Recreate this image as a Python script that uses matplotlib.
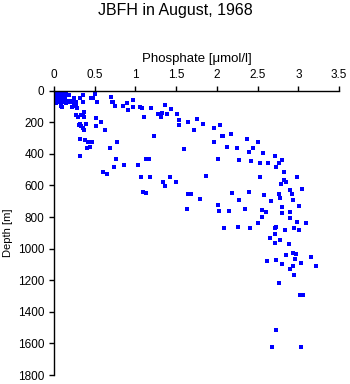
import matplotlib
matplotlib.use("Agg")
import matplotlib.pyplot as plt

plt.rcParams['font.family'] = ['Liberation Sans', 'DejaVu Sans']

title = "JBFH in August, 1968"
x_label = "Phosphate [\u03bcmol/l]"
y_label = "Depth [m]"
x_ticks = [0, 0.5, 1, 1.5, 2, 2.5, 3, 3.5]
x_tick_labels = ["0", "0.5", "1", "1.5", "2", "2.5", "3", "3.5"]
y_ticks = [0, 200, 400, 600, 800, 1000, 1200, 1400, 1600, 1800]

# near-surface samples
surf_phosphate = [0.01, 0.03, 0.05, 0.07, 0.09, 0.11,
                  0.02, 0.04, 0.06, 0.08, 0.10, 0.12, 0.14,
                  0.01, 0.03, 0.05, 0.07, 0.09, 0.13,
                  0.02, 0.04, 0.06, 0.08, 0.10, 0.15,
                  0.03, 0.05, 0.09, 0.12, 0.17,
                  0.02, 0.06, 0.10,
                  0.04, 0.08, 0.13,
                  0.03, 0.07, 0.11,
                  0.05, 0.12,
                  0.02, 0.06, 0.10, 0.14, 0.18, 0.22,
                  0.01, 0.04, 0.08, 0.12, 0.16, 0.20, 0.24, 0.27,
                  0.03, 0.09, 0.15, 0.09]
surf_depth = [2, 2, 2, 2, 2, 2,
              8, 8, 8, 8, 8, 8, 8,
              14, 14, 14, 14, 14, 14,
              20, 20, 20, 20, 20, 20,
              26, 26, 26, 26, 26,
              32, 32, 32,
              40, 40, 40,
              48, 48, 48,
              56, 56,
              64, 64, 64, 64, 64, 64,
              70, 70, 70, 70, 70, 70, 70, 70,
              76, 76, 76, 97]

# samples below the surface layer
phosphate = [0.19, 0.35, 0.50, 0.24, 0.32, 0.45, 0.48, 0.70, 0.71, 0.73, 0.53, 0.36, 0.24,
             0.97, 0.90, 0.85, 0.75, 0.97, 1.05, 1.08, 0.91, 1.11,
             0.10, 0.22, 0.25, 0.27, 0.28, 0.37, 0.27, 0.30, 0.33, 0.36, 0.37, 0.52, 0.58,
             0.52, 0.32, 0.31, 0.33, 0.39, 0.35, 0.37, 0.63, 0.32, 0.38, 0.42, 0.44, 0.47,
             0.77, 0.44, 0.41, 0.69,
             0.32, 0.76, 0.74, 0.86, 1.03, 1.13, 1.17, 0.60, 0.65, 1.07, 1.18, 1.43, 1.34,
             1.36, 1.09, 1.13, 1.23,
             1.19, 1.36, 1.28, 1.33, 1.32, 1.39, 1.44, 1.51, 1.53, 1.53, 1.64, 1.75, 1.83,
             1.72, 1.97, 2.04, 2.06, 2.08, 2.17, 1.97, 1.60, 2.13, 2.25,
             2.37, 2.50, 2.44, 2.40, 2.57,
             2.01, 2.27, 1.50, 1.87, 1.65, 1.68, 1.79, 1.63, 2.18, 2.01, 2.03, 2.15, 2.27,
             2.42, 2.53, 2.63, 2.72, 2.76, 2.80, 2.73, 2.82, 2.99, 2.53, 2.83, 2.85, 2.79,
             3.04, 2.90, 2.40, 2.58, 2.76, 2.92, 2.78, 2.66, 2.94, 2.35, 2.55, 2.60, 2.80,
             3.01, 2.90, 2.80, 2.56, 2.90, 2.99, 3.10, 2.50,
             2.09, 2.26, 2.41, 2.73, 2.71, 2.84, 2.95, 3.01, 2.72, 2.65, 2.78, 2.71, 2.88,
             2.94, 2.97, 2.85, 3.16, 2.96, 2.62, 2.73, 2.80, 3.03, 3.22, 2.93, 2.90, 2.95,
             2.76,
             3.02, 3.06, 2.73, 2.68, 3.03]
depth = [27, 27, 23, 48, 48, 48, 48, 38, 74, 74, 74, 74, 74,
         61, 80, 99, 99, 105, 101, 108, 124, 168,
         101, 101, 100, 100, 112, 133, 154, 164, 156, 154, 164, 173, 200,
         221, 213, 218, 225, 213, 238, 251, 251, 306, 312, 327, 327, 327,
         327, 356, 365, 365,
         413, 434, 481, 472, 472, 434, 434, 517, 527, 544, 544, 544, 580,
         603, 641, 647, 289,
         112, 93, 150, 143, 167, 150, 118, 150, 188, 219, 200, 177, 213,
         251, 238, 219, 289, 289, 276, 327, 367, 354, 365,
         308, 327, 365, 390, 396,
         434, 441, 580, 542, 652, 652, 686, 751, 650, 726, 763, 763, 690,
         445, 460, 460, 415, 460, 437, 485, 517, 548, 548, 567, 580, 591,
         622, 626, 643, 658, 656, 656, 681, 698, 694, 751, 755, 770, 738,
         732, 768, 776, 801, 808, 831, 839, 837,
         871, 863, 871, 865, 871, 880, 871, 884, 909, 934, 947, 966, 972,
         1029, 1035, 1042, 1054, 1067, 1080, 1073, 1099, 1092, 1111, 1111, 1128, 1168,
         1219,
         1295, 1295, 1516, 1624, 1624]

fig = plt.figure(figsize=(3.5, 3.84), dpi=100)
ax = fig.add_axes([0.1543, 0.0234, 0.8143, 0.7404])

ax.plot(surf_phosphate + phosphate, surf_depth + depth, linestyle='none',
        marker='s', markersize=2.2, markeredgewidth=0, color='#0000ff')

ax.set_xlim(0, 3.5)
ax.set_ylim(1800, 0)
ax.set_xticks(x_ticks)
ax.set_xticklabels(x_tick_labels)
ax.set_yticks(y_ticks)

ax.xaxis.tick_top()
ax.xaxis.set_label_position('top')
for side in ('right', 'bottom'):
    ax.spines[side].set_visible(False)
for side in ('left', 'top'):
    ax.spines[side].set_linewidth(1.0)

ax.tick_params(axis='both', direction='out', length=3.6, width=1.0,
               labelsize=8.5, pad=3.5, colors='black')
ax.set_xlabel(x_label, fontsize=9.5, labelpad=5)
ax.set_ylabel(y_label, fontsize=8, labelpad=3)

fig.text(0.5, 0.972, title, ha='center', va='center', fontsize=11.5)

fig.savefig("out.png", dpi=100)
